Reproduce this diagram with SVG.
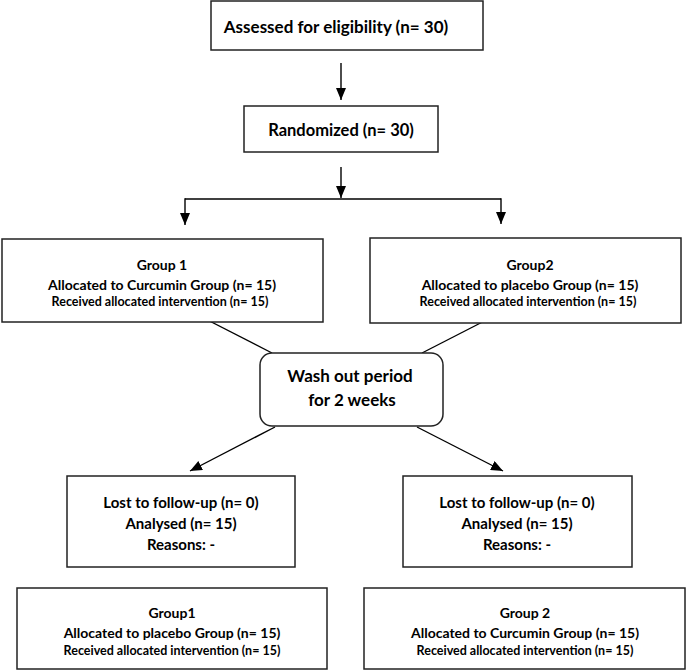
<svg xmlns="http://www.w3.org/2000/svg" width="686" height="670" viewBox="0 0 686 670">
<style>
.box{fill:#fff;stroke:#222;stroke-width:1.5}
.ln{fill:none;stroke:#000;stroke-width:1.4}
text{font-family:Lato,"Liberation Sans",sans-serif;font-weight:bold;fill:#000;text-anchor:middle}
.big{font-size:17px}
.rnd{font-size:16.5px}
.wash{font-size:17px}
.mid{font-size:14px}
.sm{font-size:12.5px}
.lost{font-size:15px}
</style>
<defs>
<marker id="ad" viewBox="0 0 12 10" refX="12" refY="5" markerWidth="12" markerHeight="10" markerUnits="userSpaceOnUse" orient="auto">
<path d="M0,0 L12,5 L0,10 Z" fill="#000"/>
</marker>
</defs>
<rect width="686" height="670" fill="#fff"/>
<g id="connectors">
<line class="ln" x1="341" y1="63" x2="341" y2="100" marker-end="url(#ad)"/>
<line class="ln" x1="341" y1="167" x2="341" y2="198" marker-end="url(#ad)"/>
<line class="ln" x1="185" y1="199" x2="501" y2="199"/>
<line class="ln" x1="185" y1="198.3" x2="185" y2="225" marker-end="url(#ad)"/>
<line class="ln" x1="501" y1="198.3" x2="501" y2="224" marker-end="url(#ad)"/>
<line class="ln" x1="188" y1="310" x2="272" y2="353"/>
<line class="ln" x1="500" y1="313" x2="422" y2="353"/>
<line class="ln" x1="275" y1="427" x2="190" y2="471" marker-end="url(#ad)"/>
<line class="ln" x1="417" y1="427" x2="503" y2="471" marker-end="url(#ad)"/>
</g>
<g id="assessed">
<rect class="box" x="211" y="1" width="272" height="49"/>
<text class="big" x="336" y="33">Assessed for eligibility (n= 30)</text>
</g>
<g id="randomized">
<rect class="box" x="244" y="106" width="194" height="46"/>
<text class="rnd" x="341" y="136">Randomized (n= 30)</text>
</g>
<g id="group1">
<rect class="box" x="2" y="239" width="321" height="83"/>
<text class="mid" x="162" y="270">Group 1</text>
<text class="mid" x="162" y="290">Allocated to Curcumin Group (n= 15)</text>
<text class="sm" x="160" y="306">Received allocated intervention (n= 15)</text>
</g>
<g id="group2">
<rect class="box" x="370" y="238" width="311" height="85"/>
<text class="mid" x="530" y="270">Group2</text>
<text class="mid" x="530" y="290">Allocated to placebo Group (n= 15)</text>
<text class="sm" x="528" y="306">Received allocated intervention (n= 15)</text>
</g>
<g id="washout">
<rect class="box" x="260" y="353" width="183" height="73" rx="12"/>
<text class="wash" x="350" y="382">Wash out period</text>
<text class="wash" x="352" y="406">for 2 weeks</text>
</g>
<g id="lost1">
<rect class="box" x="67" y="476" width="228" height="91"/>
<text class="lost" x="181" y="508">Lost to follow-up (n= 0)</text>
<text class="lost" x="181" y="529">Analysed (n= 15)</text>
<text class="lost" x="181" y="550">Reasons: -</text>
</g>
<g id="lost2">
<rect class="box" x="403" y="476" width="229" height="91"/>
<text class="lost" x="517" y="508">Lost to follow-up (n= 0)</text>
<text class="lost" x="517" y="529">Analysed (n= 15)</text>
<text class="lost" x="517" y="550">Reasons: -</text>
</g>
<g id="group1b">
<rect class="box" x="17" y="588" width="310" height="81"/>
<text class="mid" x="172" y="618">Group1</text>
<text class="mid" x="172" y="638">Allocated to placebo Group (n= 15)</text>
<text class="sm" x="172" y="655">Received allocated intervention (n= 15)</text>
</g>
<g id="group2b">
<rect class="box" x="364" y="588" width="321" height="81"/>
<text class="mid" x="525" y="618">Group 2</text>
<text class="mid" x="525" y="638">Allocated to Curcumin Group (n= 15)</text>
<text class="sm" x="525" y="655">Received allocated intervention (n= 15)</text>
</g>
</svg>
